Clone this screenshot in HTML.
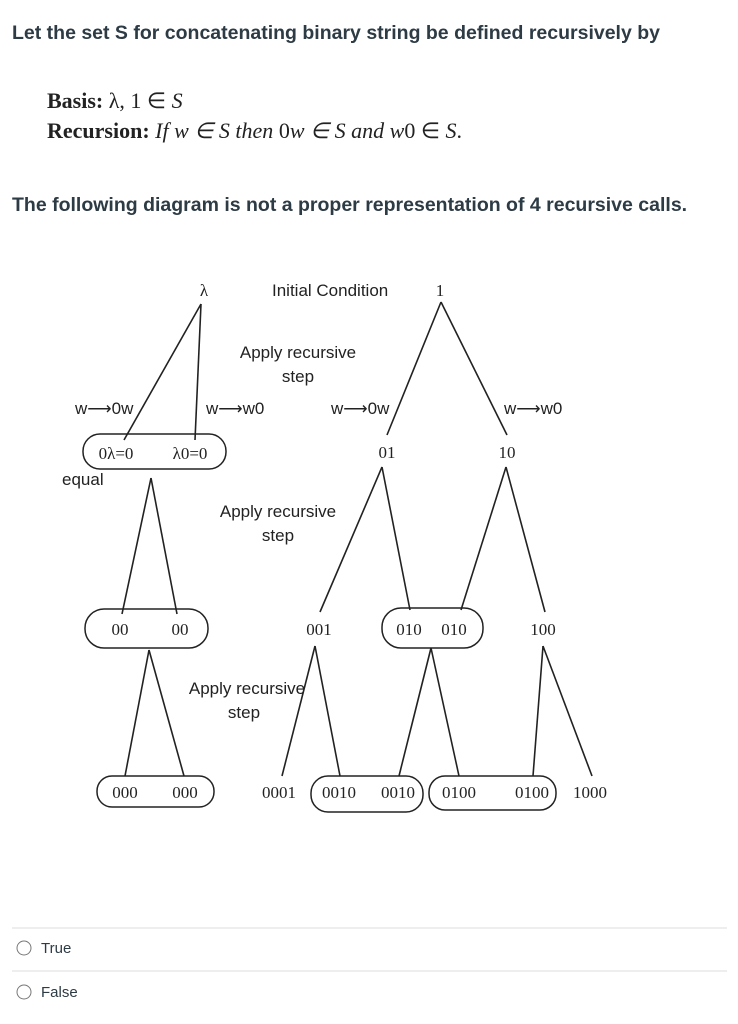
<!DOCTYPE html>
<html><head><meta charset="utf-8"><style>
body{margin:0;background:#fff;width:738px;height:1024px;overflow:hidden;font-family:"Liberation Sans",sans-serif;}
svg{position:absolute;left:0;top:0}
.h{font-family:"Liberation Sans",sans-serif;font-weight:bold;font-size:19.5px;fill:#2d3b45}
.m{font-family:"Liberation Serif",serif;font-size:22px;fill:#222}
.s{font-family:"Liberation Sans",sans-serif;font-size:17px;fill:#222}
.n{font-family:"Liberation Serif",serif;font-size:17px;fill:#222}
.o{font-family:"Liberation Sans",sans-serif;font-size:15px;fill:#2d3b45}
line{stroke:#222;stroke-width:1.6}
rect{fill:none;stroke:#222;stroke-width:1.5}
</style></head><body>
<svg width="738" height="1024" viewBox="0 0 738 1024">
<text class="h" x="12" y="39">Let the set S for concatenating binary string be defined recursively by</text>
<text class="m" x="47" y="108"><tspan font-weight="bold">Basis:</tspan> λ, 1 ∈ <tspan font-style="italic">S</tspan></text>
<text class="m" x="47" y="138"><tspan font-weight="bold">Recursion:</tspan> <tspan font-style="italic">If w ∈ S then</tspan> 0<tspan font-style="italic">w ∈ S and w</tspan>0 ∈ <tspan font-style="italic">S</tspan>.</text>
<text class="h" x="12" y="211">The following diagram is not a proper representation of 4 recursive calls.</text>

<text class="n" x="204" y="296" text-anchor="middle" font-size="19">λ</text>
<text class="s" x="272" y="296">Initial Condition</text>
<text class="n" x="440" y="296" text-anchor="middle">1</text>
<line x1="201" y1="304" x2="124" y2="440"/><line x1="201" y1="304" x2="195" y2="440"/>
<line x1="441" y1="302" x2="387" y2="435"/><line x1="441" y1="302" x2="507" y2="435"/>
<text class="s" x="298" y="358" text-anchor="middle">Apply recursive</text>
<text class="s" x="298" y="382" text-anchor="middle">step</text>
<text class="s" x="75" y="414">w⟶0w</text>
<text class="s" x="206" y="414">w⟶w0</text>
<text class="s" x="331" y="414">w⟶0w</text>
<text class="s" x="504" y="414">w⟶w0</text>
<rect x="83" y="434" width="143" height="35" rx="17"/>
<text class="n" x="116" y="459" text-anchor="middle">0λ=0</text>
<text class="n" x="190" y="459" text-anchor="middle">λ0=0</text>
<text class="s" x="62" y="485">equal</text>
<text class="n" x="387" y="458" text-anchor="middle">01</text>
<text class="n" x="507" y="458" text-anchor="middle">10</text>

<line x1="151" y1="478" x2="122" y2="614"/><line x1="151" y1="478" x2="177" y2="614"/>
<line x1="382" y1="467" x2="320" y2="612"/><line x1="382" y1="467" x2="410" y2="610"/>
<line x1="506" y1="467" x2="461" y2="610"/><line x1="506" y1="467" x2="545" y2="612"/>
<text class="s" x="278" y="517" text-anchor="middle">Apply recursive</text>
<text class="s" x="278" y="541" text-anchor="middle">step</text>
<rect x="85" y="609" width="123" height="39" rx="19"/>
<text class="n" x="120" y="635" text-anchor="middle">00</text>
<text class="n" x="180" y="635" text-anchor="middle">00</text>
<text class="n" x="319" y="635" text-anchor="middle">001</text>
<rect x="382" y="608" width="101" height="40" rx="19"/>
<text class="n" x="409" y="635" text-anchor="middle">010</text>
<text class="n" x="454" y="635" text-anchor="middle">010</text>
<text class="n" x="543" y="635" text-anchor="middle">100</text>

<line x1="149" y1="650" x2="125" y2="776"/><line x1="149" y1="650" x2="184" y2="776"/>
<line x1="315" y1="646" x2="282" y2="776"/><line x1="315" y1="646" x2="340" y2="776"/>
<line x1="431" y1="648" x2="399" y2="776"/><line x1="431" y1="648" x2="459" y2="776"/>
<line x1="543" y1="646" x2="533" y2="776"/><line x1="543" y1="646" x2="592" y2="776"/>
<text class="s" x="247" y="694" text-anchor="middle">Apply recursive</text>
<text class="s" x="244" y="718" text-anchor="middle">step</text>
<rect x="97" y="776" width="117" height="31" rx="15"/>
<text class="n" x="125" y="798" text-anchor="middle">000</text>
<text class="n" x="185" y="798" text-anchor="middle">000</text>
<text class="n" x="279" y="798" text-anchor="middle">0001</text>
<rect x="311" y="776" width="112" height="36" rx="17"/>
<text class="n" x="339" y="798" text-anchor="middle">0010</text>
<text class="n" x="398" y="798" text-anchor="middle">0010</text>
<rect x="429" y="776" width="127" height="34" rx="16"/>
<text class="n" x="459" y="798" text-anchor="middle">0100</text>
<text class="n" x="532" y="798" text-anchor="middle">0100</text>
<text class="n" x="590" y="798" text-anchor="middle">1000</text>

<line x1="12" y1="928" x2="727" y2="928" style="stroke:#ddd;stroke-width:1"/>
<circle cx="24" cy="948" r="7" fill="none" stroke="#777" stroke-width="1"/>
<text class="o" x="41" y="953">True</text>
<line x1="12" y1="971" x2="727" y2="971" style="stroke:#ddd;stroke-width:1"/>
<circle cx="24" cy="992" r="7" fill="none" stroke="#777" stroke-width="1"/>
<text class="o" x="41" y="997">False</text>
</svg>
</body></html>
